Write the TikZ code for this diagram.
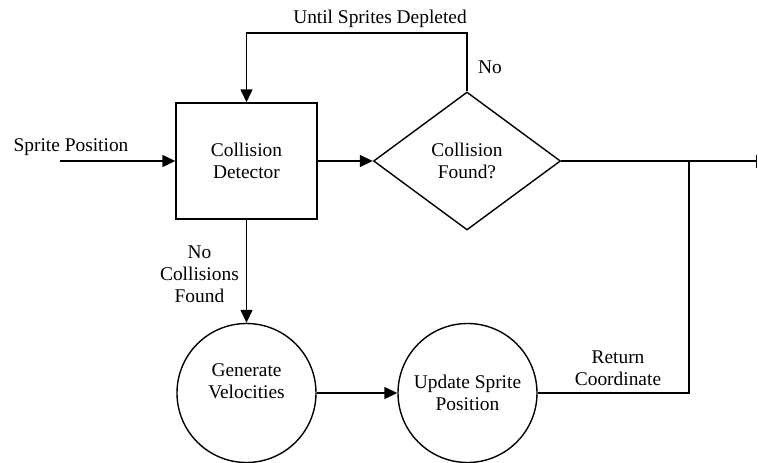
\documentclass[tikz,border=0pt]{standalone}
\usepackage{fontspec}
\setmainfont{Liberation Serif}
\newfontfamily\diagfont{Liberation Serif}
\usetikzlibrary{arrows.meta,shapes.geometric}

\tikzset{
  base/.style={line width=1.4pt},
  arr/.style={base,-{Triangle[length=13pt,width=12pt]}},
  endbar/.style={base,-{Bar[width=13pt,line width=1.4pt]}},
  blockbox/.style={base,draw,rectangle,minimum width=141pt,minimum height=116pt,inner sep=0pt,align=center},
  decision/.style={base,draw,diamond,minimum width=187pt,minimum height=138pt,inner sep=0pt,align=center},
  process/.style={base,draw,circle,minimum size=139pt,inner sep=0pt,align=center},
  lbl/.style={align=center,inner sep=0pt}
}

\begin{document}
\begin{tikzpicture}[x=1pt,y=-1pt,font=\diagfont\fontsize{19.4}{22}\selectfont]
  \useasboundingbox (0,0) rectangle (758,463);

  % blocks
  \node[blockbox] (det) at (246.5,161) {Collision\\Detector};
  \node[decision] (dec) at (467,161) {Collision\\Found?};
  \node[process] (gen) at (246.5,393) {};
  \node[lbl] (gentext) at (246.5,381) {Generate\\Velocities};
  \node[process] (upd) at (467.5,393) {Update Sprite\\Position};

  % free ends and bends
  \coordinate (src) at (60,161);
  \coordinate (loop) at (300,33);
  \coordinate (junc) at (689,161);
  \coordinate (out) at (757,161);

  % connectors
  \draw[arr] (src) -- (det.west);
  \draw[arr] (det.east) -- (dec.west);
  \draw[arr] (dec.north) |- (loop) -| (det.north);
  \draw[endbar] (dec.east) -- (out);
  \draw[base] (upd.east) -| (junc);
  \draw[arr] (det.south) -- (gen.north);
  \draw[arr] (gen.east) -- (upd.west);

  % labels
  \node[lbl] (lsrc) at (71,147) {Sprite Position};
  \node[lbl] (lloop) at (380,19) {Until Sprites Depleted};
  \node[lbl] (lno) at (490,67) {No};
  \node[lbl,anchor=east] (lnone) at (239,274) {No\\Collisions\\Found};
  \node[lbl] (lret) at (618,368) {Return\\Coordinate};
\end{tikzpicture}
\end{document}
